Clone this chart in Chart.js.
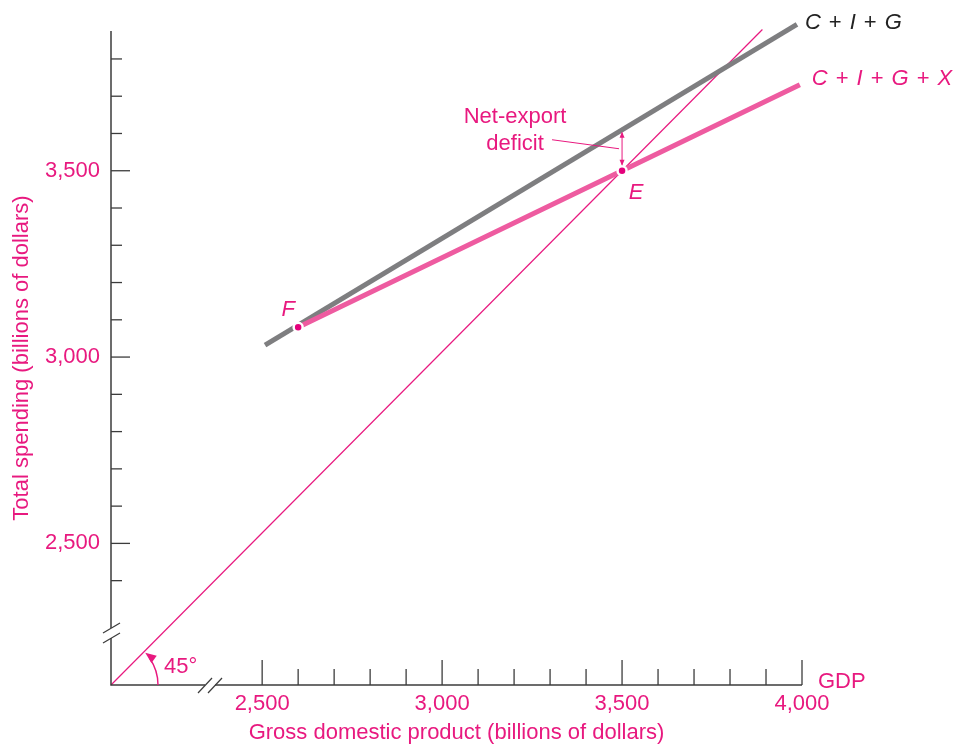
<!DOCTYPE html>
<html>
<head>
<meta charset="utf-8">
<script src="https://cdn.jsdelivr.net/npm/chart.js@4.4.1/dist/chart.umd.min.js"></script>
<style>
html, body { margin: 0; padding: 0; background: #fff; }
</style>
</head>
<body>
<canvas id="chart" width="953" height="744"></canvas>
<script>
// values (billions of dollars)
const gdpTicks = [2500, 3000, 3500, 4000];
const spendTicks = [2500, 3000, 3500];
const line45X = [2080, 3890];
const line45Y = [2120, 3879];
const cigX = [2508, 3986];
const cigY = [3032, 3893];
const cigxX = [2600, 3500, 3994];
const cigxY = [3080, 3500, 3731];
const pointNames = ['F', 'E'];
const pointX = [2600, 3500];
const pointY = [3080, 3500];
const deficitTop = 3610; // C+I+G line at GDP = 3,500

const pink = '#e8197f';
const axisColor = '#3c3c3c';
const font = '"Liberation Sans", Arial, sans-serif';
const fs = 22;

const pts = (xs, ys) => xs.map((x, i) => ({ x: x, y: ys[i] }));

function seg(ctx, x1, y1, x2, y2) {
  ctx.beginPath();
  ctx.moveTo(x1, y1);
  ctx.lineTo(x2, y2);
  ctx.stroke();
}

function arrowHead(ctx, tx, ty, dx, dy, len, half) {
  const n = Math.hypot(dx, dy);
  dx /= n; dy /= n;
  ctx.beginPath();
  ctx.moveTo(tx, ty);
  ctx.lineTo(tx - dx * len - dy * half, ty - dy * len + dx * half);
  ctx.lineTo(tx - dx * len + dy * half, ty - dy * len - dx * half);
  ctx.closePath();
  ctx.fill();
}

// tokens: [text, italic]
function drawTokens(ctx, tokens, x, y, color, gap) {
  ctx.fillStyle = color;
  ctx.textAlign = 'left';
  ctx.textBaseline = 'middle';
  tokens.forEach(t => {
    ctx.font = (t[1] ? 'italic ' : '') + fs + 'px ' + font;
    ctx.fillText(t[0], x, y);
    x += ctx.measureText(t[0]).width + gap;
  });
}

const decor = {
  id: 'decor',
  afterDatasetsDraw(chart) {
    const { ctx, chartArea: a } = chart;
    const x = chart.scales.x, y = chart.scales.y;
    ctx.save();

    // axis lines
    ctx.strokeStyle = axisColor;
    ctx.lineWidth = 1.5;
    ctx.beginPath();
    ctx.moveTo(a.left, a.top);
    ctx.lineTo(a.left, a.bottom);
    ctx.lineTo(a.right, a.bottom);
    ctx.stroke();

    // inward tick marks, long ones at the labelled values
    ctx.lineWidth = 1.3;
    for (let v = 2400; v <= 3800; v += 100) {
      const py = y.getPixelForValue(v);
      seg(ctx, a.left, py, a.left + (v % 500 === 0 ? 19 : 11), py);
    }
    for (let v = 2500; v <= 4000; v += 100) {
      const px = x.getPixelForValue(v);
      seg(ctx, px, a.bottom, px, a.bottom - (v % 500 === 0 ? 25 : 16));
    }

    // axis breaks
    const by = a.bottom - 52;
    ctx.fillStyle = '#fff';
    ctx.fillRect(a.left - 2, by - 5, 4, 10);
    const bx = a.left + 99;
    ctx.fillRect(bx - 5, a.bottom - 2, 10, 4);
    ctx.strokeStyle = axisColor;
    ctx.lineWidth = 1.2;
    [-5, 5].forEach(d => {
      seg(ctx, a.left - 8, by + d + 5, a.left + 9, by + d - 5);
      seg(ctx, bx + d - 7, a.bottom + 8, bx + d + 7, a.bottom - 7);
    });

    // 45 degree arc
    const r = 47;
    ctx.strokeStyle = pink;
    ctx.fillStyle = pink;
    ctx.lineWidth = 1.4;
    ctx.beginPath();
    ctx.arc(a.left, a.bottom, r, 0, -Math.PI / 4 + 0.18, true);
    ctx.stroke();
    const th = -Math.PI / 4;
    arrowHead(ctx, a.left + r * Math.cos(th) + 1, a.bottom + r * Math.sin(th) + 1,
      Math.sin(th) - 0.25, -Math.cos(th), 11, 4.5);
    ctx.font = fs + 'px ' + font;
    ctx.textAlign = 'left';
    ctx.textBaseline = 'middle';
    ctx.fillText('45°', a.left + 53, a.bottom - 18);

    // net-export deficit arrow
    const ex = x.getPixelForValue(3500);
    const ey = y.getPixelForValue(3500);
    const gy = y.getPixelForValue(deficitTop);
    ctx.lineWidth = 1;
    seg(ctx, ex, gy + 3, ex, ey - 6);
    arrowHead(ctx, ex, gy + 2, 0, -1, 6, 2.5);
    arrowHead(ctx, ex, ey - 5, 0, 1, 6, 2.5);
    seg(ctx, ex - 70, ey - 31, ex - 3, ey - 22);
    ctx.textAlign = 'center';
    ctx.fillText('Net-export', ex - 107, ey - 54);
    ctx.fillText('deficit', ex - 107, ey - 27);

    // point names
    ctx.font = 'italic ' + fs + 'px ' + font;
    const nameOff = [[-10, -17], [14, 22]];
    pointNames.forEach((n, i) => {
      ctx.fillText(n, x.getPixelForValue(pointX[i]) + nameOff[i][0],
        y.getPixelForValue(pointY[i]) + nameOff[i][1]);
    });

    // line labels
    const p1x = x.getPixelForValue(cigX[1]), p1y = y.getPixelForValue(cigY[1]);
    drawTokens(ctx, [['C', 1], ['+', 0], ['I', 1], ['+', 0], ['G', 1]], p1x + 8, p1y - 1, '#222', 8);
    const p2x = x.getPixelForValue(cigxX[2]), p2y = y.getPixelForValue(cigxY[2]);
    drawTokens(ctx, [['C', 1], ['+', 0], ['I', 1], ['+', 0], ['G', 1], ['+', 0], ['X', 1]],
      p2x + 12, p2y - 6, pink, 8);

    ctx.font = fs + 'px ' + font;
    ctx.fillStyle = pink;
    ctx.textAlign = 'left';
    ctx.fillText('GDP', a.right + 16, a.bottom - 3);
    ctx.restore();
  }
};

const tickFont = { family: font, size: fs };

new Chart(document.getElementById('chart'), {
  type: 'scatter',
  data: {
    datasets: [
      { data: pts(line45X, line45Y), showLine: true, borderColor: pink, borderWidth: 1.2,
        pointRadius: 0, clip: false, order: 3 },
      { data: pts(cigX, cigY), showLine: true, borderColor: '#7e7e80', borderWidth: 5,
        pointRadius: 0, clip: false, order: 2 },
      { data: pts(cigxX, cigxY), showLine: true, borderColor: '#ee5ba0', borderWidth: 5,
        pointRadius: 0, clip: false, order: 1 },
      { data: pts(pointX, pointY), showLine: false, pointRadius: 4.5,
        pointBackgroundColor: '#e4007c', pointBorderColor: '#fff', pointBorderWidth: 2.5,
        clip: false, order: 0 }
    ]
  },
  options: {
    responsive: false,
    animation: false,
    devicePixelRatio: 1,
    layout: { padding: { top: 31, right: 151, left: 0, bottom: 0 } },
    plugins: { legend: { display: false }, tooltip: { enabled: false } },
    scales: {
      x: {
        type: 'linear', min: 2080, max: 4000,
        afterBuildTicks: s => { s.ticks = gdpTicks.map(v => ({ value: v })); },
        afterFit: s => { s.height = 59; },
        grid: { display: false, drawTicks: false },
        border: { display: false },
        ticks: { color: pink, font: tickFont, padding: 6, maxRotation: 0, autoSkip: false,
          callback: v => v.toLocaleString('en-US') },
        title: { display: true, text: 'Gross domestic product (billions of dollars)',
          color: pink, font: tickFont, padding: { top: 0, bottom: -2 } }
      },
      y: {
        type: 'linear', min: 2120, max: 3875,
        afterBuildTicks: s => { s.ticks = spendTicks.map(v => ({ value: v })); },
        afterFit: s => { s.width = 111; },
        grid: { display: false, drawTicks: false },
        border: { display: false },
        ticks: { color: pink, font: tickFont, padding: 11, autoSkip: false,
          callback: v => v.toLocaleString('en-US') },
        title: { display: true, text: 'Total spending (billions of dollars)',
          color: pink, font: tickFont, padding: { top: 9, bottom: 0 } }
      }
    }
  },
  plugins: [decor]
});
</script>
</body>
</html>
